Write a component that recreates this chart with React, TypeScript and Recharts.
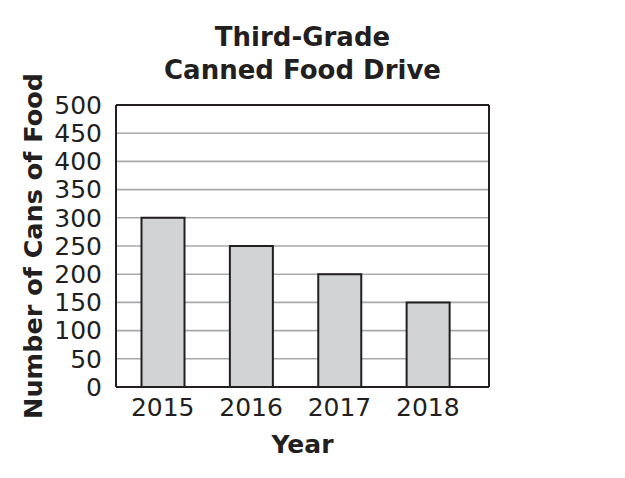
import { BarChart, Bar, XAxis, YAxis, CartesianGrid } from 'recharts'

const years = ['2015', '2016', '2017', '2018']
const cans = [300, 250, 200, 150]
const yTicks = [0, 50, 100, 150, 200, 250, 300, 350, 400, 450, 500]

const FONT = '"DejaVu Sans", Verdana, sans-serif'
const INK = '#231f20'

const chartData = years.map((year, i) => ({ year, cans: cans[i] }))

// rotated y axis title, placed from the axis viewBox
function YTitle(props: any) {
  const vb = props.viewBox || { x: 0, y: 0, width: 0, height: 0 }
  const cx = vb.x + 42
  const cy = vb.y + vb.height / 2
  return (
    <text
      x={0}
      y={0}
      transform={`translate(${cx},${cy}) rotate(-90)`}
      textAnchor="middle"
      fontFamily={FONT}
      fontWeight="bold"
      fontSize={25.5}
      fill={INK}
    >
      Number of Cans of Food
    </text>
  )
}

function XTitle(props: any) {
  const vb = props.viewBox || { x: 0, y: 0, width: 0, height: 0 }
  return (
    <text
      x={vb.x + vb.width / 2}
      y={vb.y + 66}
      textAnchor="middle"
      fontFamily={FONT}
      fontWeight="bold"
      fontSize={25}
      fill={INK}
    >
      Year
    </text>
  )
}

export default function App() {
  const frame = { stroke: INK, strokeWidth: 2 }
  return (
    <div style={{ position: 'absolute', left: 0, top: 0, width: 625, height: 478, background: '#fff' }}>
      <div
        style={{
          position: 'absolute',
          left: 116,
          top: 21,
          width: 373,
          textAlign: 'center',
          fontFamily: FONT,
          fontWeight: 'bold',
          fontSize: 26,
          lineHeight: '33px',
          color: INK,
        }}
      >
        Third-Grade
        <br />
        Canned Food Drive
      </div>
      <BarChart
        width={625}
        height={478}
        data={chartData}
        margin={{ top: 104, right: 135, bottom: 0, left: 0 }}
      >
        <CartesianGrid vertical={false} stroke="#a7a9ac" strokeWidth={1.6} />
        <XAxis
          dataKey="year"
          height={91}
          padding={{ left: 2.5, right: 17 }}
          tickLine={false}
          tickSize={0}
          tickMargin={11}
          axisLine={frame}
          tick={{ fill: INK, fontFamily: FONT, fontSize: 25 }}
          label={<XTitle />}
        />
        {/* top and right axes only draw the frame */}
        <XAxis xAxisId="top" dataKey="year" orientation="top" height={1} tick={false} tickLine={false} axisLine={frame} />
        <YAxis
          width={116}
          domain={[0, 500]}
          ticks={yTicks}
          interval={0}
          tickLine={false}
          tickSize={0}
          tickMargin={14}
          axisLine={frame}
          tick={{ fill: INK, fontFamily: FONT, fontSize: 25 }}
          label={<YTitle />}
        />
        <YAxis yAxisId="right" orientation="right" width={1} domain={[0, 500]} tick={false} tickLine={false} axisLine={frame} />
        <Bar
          dataKey="cans"
          barSize={43}
          fill="#d1d3d4"
          stroke={INK}
          strokeWidth={2}
          isAnimationActive={false}
        />
      </BarChart>
    </div>
  )
}
